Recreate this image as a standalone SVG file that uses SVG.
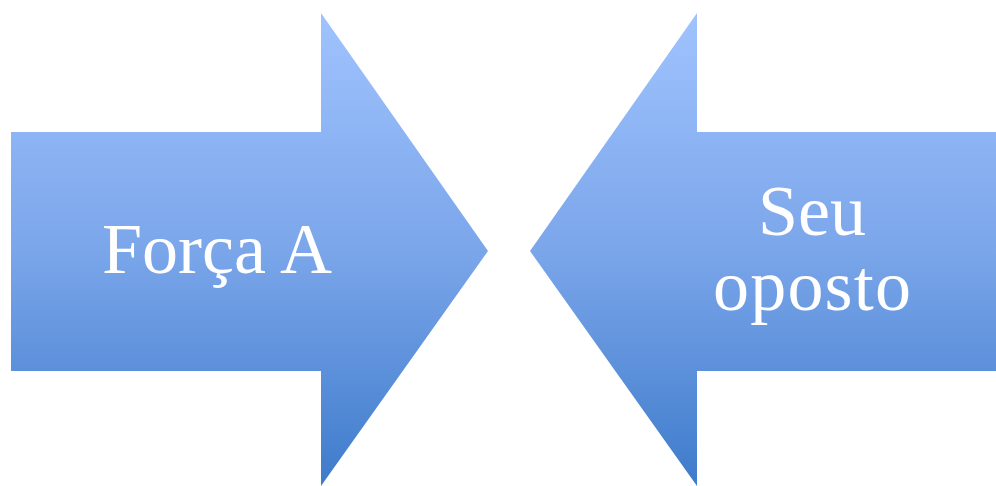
<svg xmlns="http://www.w3.org/2000/svg" width="996" height="486" viewBox="0 0 996 486">
<defs>
<linearGradient id="g" x1="0" y1="13" x2="0" y2="486" gradientUnits="userSpaceOnUse">
<stop offset="0" stop-color="#a0c3fe"/>
<stop offset="0.5" stop-color="#7ba6ea"/>
<stop offset="1" stop-color="#3e7bcb"/>
</linearGradient>
<style>
.arrow{fill:url(#g);}
.lbl{font-family:"Liberation Serif","DejaVu Serif",serif;font-size:72px;fill:#ffffff;text-anchor:middle;}
</style>
</defs>
<rect width="996" height="486" fill="#ffffff"/>
<g id="forca-a">
<polygon class="arrow" points="11,132 321,132 321,13 488,251 321,486 321,371 11,371"/>
<text class="lbl" x="217" y="273">Força A</text>
</g>
<g id="seu-oposto">
<polygon class="arrow" points="996,132 697,132 697,13 530,251 697,486 697,371 996,371"/>
<text class="lbl" x="812" y="235">Seu</text>
<text class="lbl" x="812" y="310" textLength="198" lengthAdjust="spacing">oposto</text>
</g>
<g id="connectors"></g>
</svg>
